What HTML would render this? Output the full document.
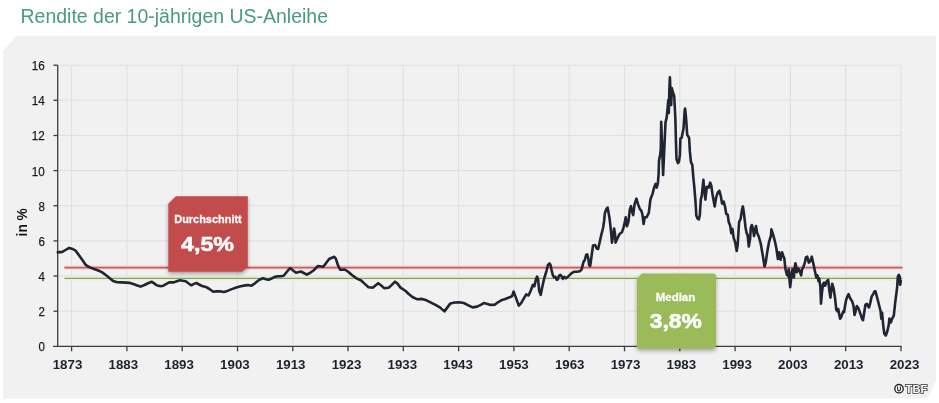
<!DOCTYPE html>
<html><head><meta charset="utf-8"><title>Rendite der 10-jährigen US-Anleihe</title>
<style>
html,body{margin:0;padding:0;background:#fff;}
body{width:939px;height:403px;overflow:hidden;position:relative;font-family:"Liberation Sans",sans-serif;}
svg{position:absolute;left:0;top:0;will-change:transform;}
</style></head><body>
<svg width="939" height="403" viewBox="0 0 939 403">
<defs>
<filter id="sh" x="-20%" y="-20%" width="140%" height="150%"><feGaussianBlur in="SourceAlpha" stdDeviation="2"/><feOffset dx="0" dy="2" result="b"/><feComponentTransfer><feFuncA type="linear" slope="0.35"/></feComponentTransfer><feMerge><feMergeNode/><feMergeNode in="SourceGraphic"/></feMerge></filter>
</defs>

<text x="20.5" y="22.6" font-family="Liberation Sans" font-size="20" fill="#489b80" textLength="307.5" lengthAdjust="spacingAndGlyphs">Rendite der 10-jährigen US-Anleihe</text>
<polygon points="16,36.3 936,36.3 936,381 930,393 926.5,398.5 3,398.5 3,51" fill="#f1f1f1"/>
<g stroke="#e0e0e0" stroke-width="1.1"><line x1="57.7" y1="311.2" x2="901.0" y2="311.2"/><line x1="57.7" y1="276.0" x2="901.0" y2="276.0"/><line x1="57.7" y1="240.9" x2="901.0" y2="240.9"/><line x1="57.7" y1="205.7" x2="901.0" y2="205.7"/><line x1="57.7" y1="170.6" x2="901.0" y2="170.6"/><line x1="57.7" y1="135.5" x2="901.0" y2="135.5"/><line x1="57.7" y1="100.3" x2="901.0" y2="100.3"/><line x1="57.7" y1="65.2" x2="901.0" y2="65.2"/><line x1="71.6" y1="65.2" x2="71.6" y2="346.3"/><line x1="126.9" y1="65.2" x2="126.9" y2="346.3"/><line x1="182.2" y1="65.2" x2="182.2" y2="346.3"/><line x1="237.5" y1="65.2" x2="237.5" y2="346.3"/><line x1="292.8" y1="65.2" x2="292.8" y2="346.3"/><line x1="348.0" y1="65.2" x2="348.0" y2="346.3"/><line x1="403.3" y1="65.2" x2="403.3" y2="346.3"/><line x1="458.6" y1="65.2" x2="458.6" y2="346.3"/><line x1="513.9" y1="65.2" x2="513.9" y2="346.3"/><line x1="569.2" y1="65.2" x2="569.2" y2="346.3"/><line x1="624.5" y1="65.2" x2="624.5" y2="346.3"/><line x1="679.8" y1="65.2" x2="679.8" y2="346.3"/><line x1="735.1" y1="65.2" x2="735.1" y2="346.3"/><line x1="790.4" y1="65.2" x2="790.4" y2="346.3"/><line x1="845.7" y1="65.2" x2="845.7" y2="346.3"/><line x1="901.0" y1="65.2" x2="901.0" y2="346.3"/></g>
<g stroke="#3c3c3c" stroke-width="1.3"><line x1="57.7" y1="65.2" x2="57.7" y2="346.90000000000003"/><line x1="53" y1="346.3" x2="901.5" y2="346.3"/><line x1="53.5" y1="311.2" x2="57.7" y2="311.2"/><line x1="53.5" y1="276.0" x2="57.7" y2="276.0"/><line x1="53.5" y1="240.9" x2="57.7" y2="240.9"/><line x1="53.5" y1="205.7" x2="57.7" y2="205.7"/><line x1="53.5" y1="170.6" x2="57.7" y2="170.6"/><line x1="53.5" y1="135.5" x2="57.7" y2="135.5"/><line x1="53.5" y1="100.3" x2="57.7" y2="100.3"/><line x1="53.5" y1="65.2" x2="57.7" y2="65.2"/><line x1="71.6" y1="346.3" x2="71.6" y2="351.3"/><line x1="126.9" y1="346.3" x2="126.9" y2="351.3"/><line x1="182.2" y1="346.3" x2="182.2" y2="351.3"/><line x1="237.5" y1="346.3" x2="237.5" y2="351.3"/><line x1="292.8" y1="346.3" x2="292.8" y2="351.3"/><line x1="348.0" y1="346.3" x2="348.0" y2="351.3"/><line x1="403.3" y1="346.3" x2="403.3" y2="351.3"/><line x1="458.6" y1="346.3" x2="458.6" y2="351.3"/><line x1="513.9" y1="346.3" x2="513.9" y2="351.3"/><line x1="569.2" y1="346.3" x2="569.2" y2="351.3"/><line x1="624.5" y1="346.3" x2="624.5" y2="351.3"/><line x1="679.8" y1="346.3" x2="679.8" y2="351.3"/><line x1="735.1" y1="346.3" x2="735.1" y2="351.3"/><line x1="790.4" y1="346.3" x2="790.4" y2="351.3"/><line x1="845.7" y1="346.3" x2="845.7" y2="351.3"/><line x1="901.0" y1="346.3" x2="901.0" y2="351.3"/></g>
<g font-family="Liberation Sans" font-size="13.6" fill="#1a1a1a" stroke="#1a1a1a" stroke-width="0.25"><text x="44.8" y="351.2" text-anchor="end" textLength="6.4" lengthAdjust="spacingAndGlyphs">0</text><text x="44.8" y="316.1" text-anchor="end" textLength="6.4" lengthAdjust="spacingAndGlyphs">2</text><text x="44.8" y="280.9" text-anchor="end" textLength="6.4" lengthAdjust="spacingAndGlyphs">4</text><text x="44.8" y="245.8" text-anchor="end" textLength="6.4" lengthAdjust="spacingAndGlyphs">6</text><text x="44.8" y="210.6" text-anchor="end" textLength="6.4" lengthAdjust="spacingAndGlyphs">8</text><text x="44.8" y="175.5" text-anchor="end" textLength="13.0" lengthAdjust="spacingAndGlyphs">10</text><text x="44.8" y="140.4" text-anchor="end" textLength="13.0" lengthAdjust="spacingAndGlyphs">12</text><text x="44.8" y="105.2" text-anchor="end" textLength="13.0" lengthAdjust="spacingAndGlyphs">14</text><text x="44.8" y="70.1" text-anchor="end" textLength="13.0" lengthAdjust="spacingAndGlyphs">16</text></g>
<g font-family="Liberation Sans" font-size="12.5" font-weight="bold" fill="#1c2230"><text x="67.5" y="368.6" text-anchor="middle" textLength="29.6" lengthAdjust="spacingAndGlyphs">1873</text><text x="123.3" y="368.6" text-anchor="middle" textLength="29.6" lengthAdjust="spacingAndGlyphs">1883</text><text x="179.1" y="368.6" text-anchor="middle" textLength="29.6" lengthAdjust="spacingAndGlyphs">1893</text><text x="234.9" y="368.6" text-anchor="middle" textLength="29.6" lengthAdjust="spacingAndGlyphs">1903</text><text x="290.7" y="368.6" text-anchor="middle" textLength="29.6" lengthAdjust="spacingAndGlyphs">1913</text><text x="346.5" y="368.6" text-anchor="middle" textLength="29.6" lengthAdjust="spacingAndGlyphs">1923</text><text x="402.3" y="368.6" text-anchor="middle" textLength="29.6" lengthAdjust="spacingAndGlyphs">1933</text><text x="458.1" y="368.6" text-anchor="middle" textLength="29.6" lengthAdjust="spacingAndGlyphs">1943</text><text x="513.9" y="368.6" text-anchor="middle" textLength="29.6" lengthAdjust="spacingAndGlyphs">1953</text><text x="569.7" y="368.6" text-anchor="middle" textLength="29.6" lengthAdjust="spacingAndGlyphs">1963</text><text x="625.5" y="368.6" text-anchor="middle" textLength="29.6" lengthAdjust="spacingAndGlyphs">1973</text><text x="681.3" y="368.6" text-anchor="middle" textLength="29.6" lengthAdjust="spacingAndGlyphs">1983</text><text x="737.1" y="368.6" text-anchor="middle" textLength="29.6" lengthAdjust="spacingAndGlyphs">1993</text><text x="792.9" y="368.6" text-anchor="middle" textLength="29.6" lengthAdjust="spacingAndGlyphs">2003</text><text x="848.7" y="368.6" text-anchor="middle" textLength="29.6" lengthAdjust="spacingAndGlyphs">2013</text><text x="904.5" y="368.6" text-anchor="middle" textLength="29.6" lengthAdjust="spacingAndGlyphs">2023</text></g>
<text transform="translate(27.1,222.3) rotate(-90)" text-anchor="middle" font-family="Liberation Sans" font-size="14.2" textLength="28.3" lengthAdjust="spacingAndGlyphs" font-weight="bold" fill="#111">in %</text>
<line x1="64.4" y1="267.6" x2="902.5" y2="267.6" stroke="#f5dcdc" stroke-width="5"/>
<line x1="64.4" y1="278.3" x2="902.5" y2="278.3" stroke="#e7efdc" stroke-width="5"/>
<line x1="64.4" y1="267.6" x2="902.5" y2="267.6" stroke="#c55a5e" stroke-width="1.9"/>
<line x1="64.4" y1="278.3" x2="902.5" y2="278.3" stroke="#8ca068" stroke-width="1.2"/>
<polyline points="57.8,252.4 62.3,251.9 65.5,250.0 69.2,247.9 71.9,248.7 75.2,250.3 78.4,254.4 82.4,260.0 85.6,264.8 89.7,267.3 93.7,268.9 97.7,270.2 101.8,272.1 105.8,275.0 109.8,278.2 113.1,281.0 117.1,282.3 121.1,282.4 126.0,282.6 130.0,282.9 134.0,284.2 137.3,285.5 140.5,286.6 144.5,285.0 148.5,283.0 151.8,281.8 153.5,282.9 156.7,285.3 160.4,286.2 163.4,285.7 166.4,283.9 169.3,282.4 173.8,282.4 176.8,281.3 179.8,280.2 182.7,280.7 185.7,281.3 188.7,283.5 191.4,285.3 193.9,283.9 196.4,283.0 199.1,284.5 202.1,286.0 205.8,286.9 209.5,289.0 213.2,291.7 216.2,291.4 219.9,291.2 223.7,292.0 227.4,290.9 231.8,289.1 236.3,287.5 240.8,286.2 245.2,285.4 248.1,285.1 251.2,285.8 254.9,283.3 259.3,279.8 263.0,278.3 266.1,279.2 268.6,279.8 271.0,278.8 274.2,277.1 277.9,276.3 281.0,276.1 283.7,275.7 286.7,272.0 290.1,268.0 293.1,270.5 296.1,272.7 300.8,271.5 303.8,273.0 306.8,274.7 309.8,273.0 313.5,270.5 318.0,266.0 323.2,266.8 326.1,263.1 329.1,259.0 334.3,256.8 335.8,258.6 338.0,265.3 340.3,269.8 344.7,269.5 348.5,272.0 352.2,275.3 356.6,278.4 361.1,280.5 364.8,283.9 368.5,287.3 373.0,287.6 378.2,283.2 381.2,285.5 384.1,288.1 388.6,287.8 391.6,285.1 395.0,281.7 397.5,283.6 400.5,287.6 405.7,291.0 408.7,294.0 412.4,297.0 416.9,299.2 422.1,298.9 426.5,300.3 431.0,302.6 435.5,304.9 439.9,307.4 444.4,311.4 447.4,307.4 450.4,303.4 454.8,302.5 459.3,302.2 463.8,303.0 468.9,305.6 472.6,307.4 477.1,306.6 480.8,304.9 483.8,303.1 487.5,304.1 490.5,304.9 495.0,304.6 497.9,302.3 501.7,300.1 504.6,299.2 508.4,297.7 512.1,296.2 513.6,291.5 515.8,297.4 518.8,305.6 521.0,303.4 524.0,298.2 526.2,294.4 528.5,295.5 530.7,290.7 532.9,284.8 534.4,286.3 535.9,279.6 537.1,276.6 538.1,279.6 539.2,290.7 540.7,294.9 542.1,287.7 544.1,278.8 546.5,270.8 548.0,264.9 549.5,263.4 550.5,264.9 551.5,269.8 552.7,274.8 553.9,277.3 555.4,276.8 556.7,279.8 557.9,279.3 558.9,275.8 560.4,274.8 561.9,276.8 562.9,278.8 564.4,276.8 565.9,278.3 567.3,277.3 569.3,275.3 571.3,273.3 573.8,271.8 576.8,271.8 579.8,271.3 581.7,269.3 582.7,264.9 583.7,261.4 584.7,260.4 586.2,254.9 587.2,254.4 588.2,257.9 589.2,265.4 590.2,265.9 591.2,258.9 593.0,245.5 595.1,245.0 596.7,248.5 598.1,249.0 599.5,243.0 601.2,235.2 603.1,227.7 604.1,221.0 604.9,212.9 606.4,209.1 607.6,207.6 608.6,212.9 609.6,218.8 610.8,229.2 612.0,242.6 613.1,235.9 614.1,228.5 615.0,233.7 615.6,242.6 617.5,238.2 619.8,233.7 622.0,232.2 623.5,227.7 625.0,221.0 625.7,217.3 626.9,226.3 628.4,221.8 629.9,209.1 631.0,206.2 632.0,211.4 633.2,215.1 634.6,203.9 636.4,198.7 637.9,203.9 639.9,209.1 641.3,210.6 642.4,214.3 643.6,224.0 644.8,217.3 646.5,217.3 648.8,212.9 650.4,199.5 652.6,193.6 654.1,187.6 655.6,183.9 656.7,187.6 657.9,183.2 658.6,174.2 659.0,160.8 660.1,154.9 660.8,148.9 661.2,121.8 662.3,151.9 663.1,175.0 663.8,160.0 665.5,122.4 666.7,117.4 667.4,110.0 668.3,100.0 668.8,113.0 669.3,90.0 669.9,77.4 670.6,95.0 671.2,105.0 671.8,88.0 672.8,92.0 674.2,96.0 674.8,107.2 675.4,120.0 675.9,140.0 676.5,159.3 678.0,163.1 679.0,161.6 679.9,154.9 680.4,138.5 681.6,137.9 683.5,128.6 684.7,110.0 685.1,108.5 686.0,117.4 687.2,134.8 689.1,137.9 689.9,151.9 690.9,161.9 692.3,164.9 693.3,177.2 694.3,187.0 695.5,201.6 696.3,215.5 697.5,218.5 698.8,219.4 699.8,215.5 700.8,199.6 701.8,195.6 703.4,179.8 704.2,189.7 705.4,199.6 706.8,186.7 708.8,187.7 710.2,182.7 711.3,185.7 712.7,195.6 714.7,206.5 716.1,197.6 717.7,192.7 719.3,190.7 720.7,195.6 722.1,203.6 723.7,201.6 725.2,207.5 726.2,213.8 727.7,214.6 728.7,222.0 730.2,225.7 731.3,233.2 732.4,228.7 733.6,237.6 735.1,242.1 736.7,251.0 737.7,244.9 738.5,231.7 739.1,222.0 740.6,219.0 742.1,209.3 742.9,206.4 744.0,213.8 745.5,227.2 746.6,233.2 747.6,235.0 748.8,246.5 750.1,238.9 750.8,228.0 751.8,225.0 753.0,228.7 754.0,236.1 754.8,231.7 756.0,226.0 757.0,232.4 758.9,237.0 760.7,243.5 761.5,247.9 763.0,256.8 764.5,266.5 765.7,262.7 767.2,252.3 769.0,242.0 770.9,236.0 771.4,229.4 772.9,233.9 774.9,241.3 776.3,248.0 777.9,259.0 779.1,252.3 780.6,259.8 782.1,252.3 783.3,256.0 784.3,258.3 785.4,268.7 786.8,274.6 788.0,276.0 788.7,269.3 789.5,279.8 790.2,287.2 791.0,279.8 791.7,272.3 792.4,269.3 793.2,273.8 793.9,277.5 794.7,267.9 795.4,263.4 796.2,266.4 796.9,272.3 798.4,268.6 799.9,271.6 801.1,275.3 802.1,269.3 803.6,266.4 805.1,261.9 805.8,257.4 807.3,256.7 808.8,262.6 810.3,261.2 811.8,256.7 813.3,263.4 814.5,269.3 815.5,273.8 816.3,277.5 817.4,275.3 818.5,281.3 819.2,278.3 820.4,287.2 821.0,303.6 821.9,293.2 823.0,284.2 824.0,282.7 825.2,285.7 826.7,281.3 828.2,279.8 829.3,290.2 830.4,297.6 831.4,290.2 832.2,283.7 833.7,288.9 835.2,299.3 836.3,309.8 837.4,311.3 838.2,309.0 839.2,314.2 840.1,318.7 841.2,317.2 842.2,314.2 843.4,311.3 844.1,312.0 844.9,306.8 846.1,300.1 847.1,297.1 848.6,294.1 849.6,297.1 850.8,299.3 852.3,301.6 853.5,306.0 854.6,315.0 855.6,311.3 856.8,306.0 858.0,307.5 859.0,309.8 860.5,314.2 862.0,318.7 863.0,320.2 864.2,312.7 865.4,304.6 866.9,303.8 867.9,306.0 869.0,307.5 870.2,303.1 871.7,296.4 873.2,294.1 874.6,291.2 875.4,291.2 876.4,294.9 877.6,299.3 879.1,305.3 880.6,311.3 881.3,318.7 882.1,312.7 883.3,326.1 884.3,333.6 885.8,335.5 887.3,331.3 888.8,324.6 889.4,318.6 890.8,322.5 892.2,318.6 893.8,315.6 895.2,302.7 896.2,294.8 897.2,286.8 897.8,276.9 898.8,274.9 899.8,276.9 900.2,284.8 900.8,280.9" fill="none" stroke="#1f2532" stroke-width="2.6" stroke-linejoin="round" stroke-linecap="round"/>
<polygon filter="url(#sh)" points="176,196.3 247.8,196.3 247.8,266.3 242.4,271.7 168.3,271.7 168.3,203.8" fill="#c24b4c"/>
<text x="208" y="223.2" text-anchor="middle" font-family="Liberation Sans" font-size="11.8" font-weight="bold" fill="#fff" stroke="#fff" stroke-width="0.3" textLength="67.5" lengthAdjust="spacingAndGlyphs">Durchschnitt</text>
<text x="207.5" y="250.7" text-anchor="middle" font-family="Liberation Sans" font-size="21" font-weight="bold" fill="#fff" stroke="#fff" stroke-width="0.6" textLength="53" lengthAdjust="spacingAndGlyphs">4,5%</text>
<path filter="url(#sh)" d="M642,273.6 L713,273.6 Q716,273.6 716,276.6 L716,345.7 Q716,348.7 713,348.7 L639.8,348.7 Q636.8,348.7 636.8,345.7 L636.8,278.8 Z" fill="#9bbb59"/>
<text x="675.5" y="300.7" text-anchor="middle" font-family="Liberation Sans" font-size="11.8" font-weight="bold" fill="#fff" stroke="#fff" stroke-width="0.3" textLength="39.5" lengthAdjust="spacingAndGlyphs">Median</text>
<text x="675.8" y="328.2" text-anchor="middle" font-family="Liberation Sans" font-size="21" font-weight="bold" fill="#fff" stroke="#fff" stroke-width="0.6" textLength="52" lengthAdjust="spacingAndGlyphs">3,8%</text>
<circle cx="899" cy="388.7" r="4.2" fill="#fff" stroke="#2a2a2a" stroke-width="1.4"/>
<path d="M897.6,386.6 L897.6,389.6 Q897.6,390.9 899,390.9 Q900.4,390.9 900.4,389.6 L900.4,386.6" fill="none" stroke="#2a2a2a" stroke-width="1.1"/>
<text x="905.6" y="393.2" font-family="Liberation Sans" font-size="11.2" font-weight="bold" fill="#fff" stroke="#2a2a2a" stroke-width="1.5" paint-order="stroke" textLength="21.6" lengthAdjust="spacingAndGlyphs">TBF</text>
</svg></body></html>
